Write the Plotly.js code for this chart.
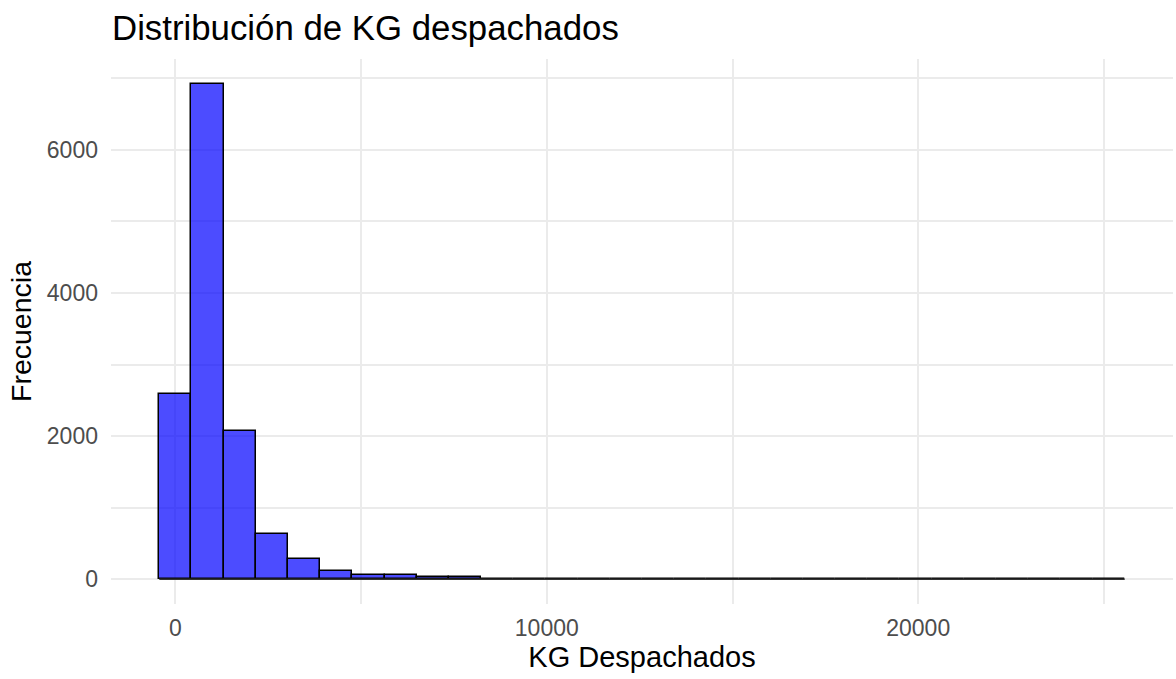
<!DOCTYPE html>
<html>
<head>
<meta charset="utf-8">
<script src="https://cdn.plot.ly/plotly-3.0.1.min.js"></script>
<style>html,body{margin:0;padding:0;background:#fff}#chart{width:1176px;height:679px}</style>
</head>
<body>
<div id="chart"></div>
<script>
// Bin centers (KG despachados) and counts
const binWidth = 866.4;
const binCenters = [0, 866, 1733, 2599, 3466, 4332, 5198, 6065, 6931, 7798,
  8664, 9530, 10397, 11263, 12130, 12996, 13862, 14729, 15595, 16462,
  17328, 18194, 19061, 19927, 20794, 21660, 22526, 23393, 24259, 25126];
const counts = [2590, 6922, 2077, 633, 280, 112, 56, 64, 36, 30,
  10, 6, 4, 3, 2, 2, 1, 1, 1, 0,
  1, 0, 0, 1, 0, 0, 0, 0, 0, 1];
const xTickVals = [0, 10000, 20000];
const xTickText = ['0', '10000', '20000'];
const yTickVals = [0, 2000, 4000, 6000];
const yTickText = ['0', '2000', '4000', '6000'];

const font = 'Liberation Sans, Arial, sans-serif';

const trace = {
  type: 'bar',
  x: binCenters,
  y: counts,
  width: binCenters.map(() => binWidth),
  marker: { color: 'rgba(0,0,255,0.7)', line: { color: '#000000', width: 1.5 } },
  hoverinfo: 'x+y'
};

const layout = {
  width: 1176, height: 679,
  margin: { l: 111, r: 3, t: 59, b: 75 },
  paper_bgcolor: '#ffffff', plot_bgcolor: '#ffffff',
  showlegend: false,
  bargap: 0,
  title: {
    text: 'Distribución de KG despachados',
    font: { family: font, size: 34.8, color: '#000000' },
    x: 112 / 1176, xref: 'container', xanchor: 'left',
    y: 1 - 28 / 679, yref: 'container', yanchor: 'middle'
  },
  xaxis: {
    range: [-1733, 26859],
    tickvals: xTickVals, ticktext: xTickText,
    ticks: '', ticklabelstandoff: 8,
    tickfont: { family: font, size: 23, color: '#4d4d4d' },
    showgrid: true, gridcolor: '#ebebeb', gridwidth: 2,
    minor: { dtick: 10000, tick0: 5000, showgrid: true, gridcolor: '#ebebeb', gridwidth: 1.5 },
    zeroline: false, showline: false,
    title: { text: 'KG Despachados', font: { family: font, size: 29, color: '#000000' }, standoff: 6 }
  },
  yaxis: {
    range: [-346, 7268],
    tickvals: yTickVals, ticktext: yTickText,
    ticks: '', ticklabelstandoff: 12,
    tickfont: { family: font, size: 23, color: '#4d4d4d' },
    showgrid: true, gridcolor: '#ebebeb', gridwidth: 2,
    minor: { dtick: 2000, tick0: 1000, showgrid: true, gridcolor: '#ebebeb', gridwidth: 1.5 },
    zeroline: false, showline: false,
    title: { text: 'Frecuencia', font: { family: font, size: 28.5, color: '#000000' }, standoff: 6 }
  },
  shapes: [{
    type: 'line', xref: 'x', yref: 'y',
    x0: binCenters[0] - binWidth / 2, x1: binCenters[binCenters.length - 1] + binWidth / 2,
    y0: 0, y1: 0,
    line: { color: '#333333', width: 1.5 }, layer: 'above'
  }]
};

Plotly.newPlot('chart', [trace], layout, { displayModeBar: false, responsive: false });
</script>
</body>
</html>
